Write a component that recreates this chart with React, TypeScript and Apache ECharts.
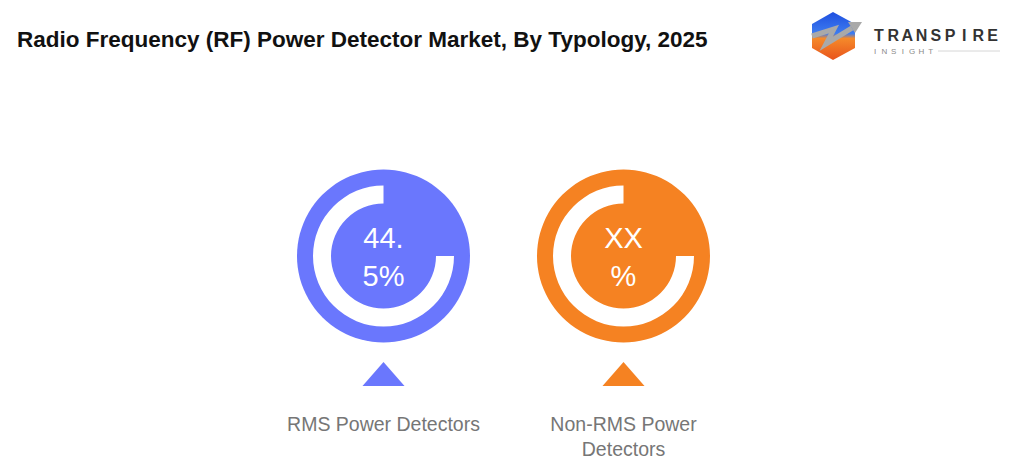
import React, { useEffect, useRef } from "react";
import * as echarts from "echarts";

const titleText = "Radio Frequency (RF) Power Detector Market, By Typology, 2025";
const categories = ["RMS Power Detectors", "Non-RMS Power\nDetectors"];
const valueLabels = ["44.\n5%", "XX\n%"];
const ringShare = [75, 75];
const colors = ["#6a77fd", "#f58222"];
const logoWord = "TRANSPIRE";
const logoSub = "INSIGHT";

export default function App() {
  const ref = useRef<HTMLDivElement>(null);
  useEffect(() => {
    document.body.style.margin = "0";
    const chart = echarts.init(ref.current!, null, { renderer: "svg" });
    const centersX = [383.5, 623.5];
    const cy = 256;
    const series: any[] = [];
    const graphic: any[] = [];
    categories.forEach((cat, i) => {
      series.push({
        type: "pie",
        silent: true,
        radius: [0, 86.5],
        center: [centersX[i], cy],
        label: { show: false },
        labelLine: { show: false },
        data: [{ name: cat, value: 1, itemStyle: { color: colors[i] } }],
      });
      series.push({
        type: "pie",
        silent: true,
        radius: [52.5, 70.5],
        center: [centersX[i], cy],
        startAngle: 90,
        clockwise: false,
        label: { show: false },
        labelLine: { show: false },
        data: [
          { name: "ring", value: ringShare[i], itemStyle: { color: "#ffffff" } },
          { name: "rest", value: 100 - ringShare[i], itemStyle: { color: "rgba(0,0,0,0)" } },
        ],
      });
      graphic.push({
        type: "text",
        x: centersX[i],
        y: cy + 1,
        style: {
          text: valueLabels[i],
          fill: "#ffffff",
          font: "29px 'Liberation Sans', Arial, sans-serif",
          lineHeight: 38,
          align: "center",
          verticalAlign: "middle",
        },
        z: 10,
      });
      graphic.push({
        type: "polygon",
        shape: {
          points: [
            [centersX[i] - 21, 386],
            [centersX[i], 362],
            [centersX[i] + 21, 386],
          ],
        },
        style: { fill: colors[i] },
      });
      graphic.push({
        type: "text",
        x: centersX[i],
        y: 411.5,
        style: {
          text: cat,
          fill: "#767676",
          font: "19.5px 'Liberation Sans', Arial, sans-serif",
          lineHeight: 25,
          align: "center",
          verticalAlign: "top",
        },
      });
    });

    // logo
    graphic.push({
      type: "polygon",
      shape: {
        points: [
          [833, 12],
          [855, 24],
          [855, 48],
          [833, 60],
          [812, 48],
          [812, 24],
        ],
      },
      style: {
        fill: new echarts.graphic.LinearGradient(0, 0, 0, 1, [
          { offset: 0, color: "#1f4fe0" },
          { offset: 0.45, color: "#3d7cf0" },
          { offset: 0.55, color: "#f58a2a" },
          { offset: 1, color: "#e8541c" },
        ]),
      },
    });
    graphic.push({
      type: "polyline",
      shape: {
        points: [
          [812, 36],
          [834, 29],
          [826, 44],
          [852, 28],
        ],
      },
      style: { stroke: "#a9a9a9", lineWidth: 5, fill: "none", lineJoin: "miter" },
    });
    graphic.push({
      type: "polygon",
      shape: { points: [[848, 22], [862, 22], [855, 33]] },
      style: { fill: "#a9a9a9" },
    });
    logoWord.split("").forEach((ch, k) => {
      graphic.push({
        type: "text",
        x: 879 + k * 14.2,
        y: 35,
        style: {
          text: ch,
          fill: "#333333",
          font: "bold 16px 'Liberation Sans', Arial, sans-serif",
          align: "center",
          verticalAlign: "middle",
        },
      });
    });
    logoSub.split("").forEach((ch, k) => {
      graphic.push({
        type: "text",
        x: 875 + k * 9.3,
        y: 51,
        style: {
          text: ch,
          fill: "#8a8a8a",
          font: "8px 'Liberation Sans', Arial, sans-serif",
          align: "center",
          verticalAlign: "middle",
        },
      });
    });
    graphic.push({
      type: "line",
      shape: { x1: 938, y1: 51, x2: 1000, y2: 51 },
      style: { stroke: "#d6d6d6", lineWidth: 1 },
    });

    chart.setOption({
      animation: false,
      backgroundColor: "#ffffff",
      title: {
        text: titleText,
        left: 12,
        top: 23,
        textStyle: {
          fontFamily: "'Liberation Sans', Arial, sans-serif",
          fontWeight: "bold",
          fontSize: 22.5,
          color: "#111111",
        },
      },
      series,
      graphic,
    });
    return () => chart.dispose();
  }, []);
  return <div ref={ref} style={{ width: 1015, height: 472 }} />;
}
